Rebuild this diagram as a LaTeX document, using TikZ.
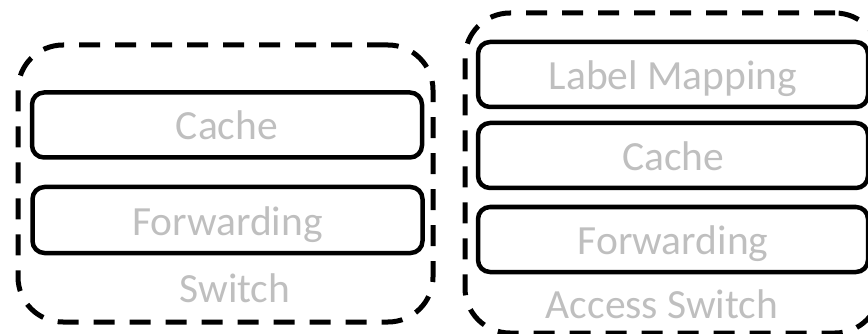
\documentclass[tikz,border=0pt]{standalone}
\usepackage{fontspec}
\setmainfont{Carlito}
\definecolor{labelgray}{HTML}{BFBFBF}
\tikzset{
  unit/.style={draw=black, line width=4.5pt, rounded corners=12pt,
    minimum width=390pt, minimum height=65pt},
  device/.style={draw=black, line width=5pt, rounded corners=45pt,
    dash pattern=on 21pt off 15pt, minimum width=415pt},
  txt/.style={text=labelgray, font=\fontsize{41.5}{45}\selectfont,
    text height=30pt, text depth=0pt, inner sep=0pt}
}
\begin{document}
\begin{tikzpicture}[x=1pt,y=-1pt]
      \useasboundingbox (0,0) rectangle (868,334);
      \clip (0,0) rectangle (868,334);
      % switch
      \node[device, minimum height=277pt] (sw) at (225.5,183.5) {};
      \node[unit, txt] (swcache) at (227,125) {Cache};
      \node[unit, txt, minimum height=66pt] (swfwd) at (227.5,220) {Forwarding};
      \node[txt] (swlabel) at (235,287) {Switch};
      % access switch
      \node[device, minimum height=320pt] (acc) at (672.5,173) {};
      \node[unit, txt] (accmap) at (673,74.5) {Label Mapping};
      \node[unit, txt] (acccache) at (673,155.5) {Cache};
      \node[unit, txt] (accfwd) at (673,239.5) {Forwarding};
      \node[txt] (acclabel) at (662,303) {Access Switch};
    \end{tikzpicture}
\end{document}
